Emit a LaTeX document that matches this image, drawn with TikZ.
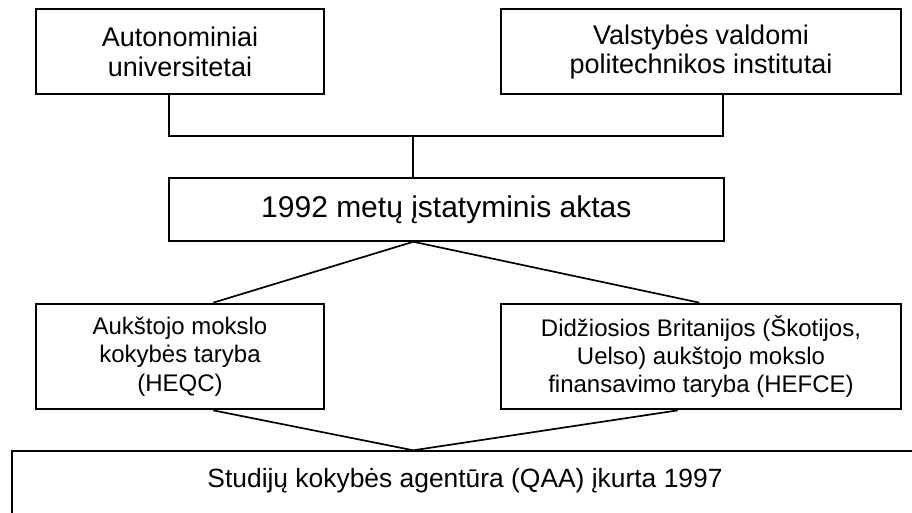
\documentclass[tikz,border=0pt]{standalone}
\usepackage{fontspec}
\setmainfont{Liberation Sans}
\begin{document}
\begin{tikzpicture}[x=1pt,y=-1pt,
  box/.style={draw=black, line width=2.1pt, fill=white, align=center, inner sep=0pt},
  link/.style={draw=black, line width=1.7pt, line join=miter},
  fbig/.style={font=\fontsize{27}{29.3}\selectfont},
  fmid/.style={font=\fontsize{24}{28.3}\selectfont},
  fact/.style={font=\fontsize{30}{34}\selectfont},
  fbot/.style={font=\fontsize{26.4}{30}\selectfont}]
\useasboundingbox (0,0) rectangle (912,512);
\clip (0,0) rectangle (912,512);
\fill[white] (0,0) rectangle (912,512);
% boxes
\node[box, fbig, minimum width=288.6pt, minimum height=84.7pt] (b1) at (180,51.7) {Autonominiai\\universitetai};
\node[box, fbig, minimum width=400pt, minimum height=84.7pt] (b2) at (701,51.7) {Valstybės valdomi\\politechnikos institutai};
\node[box, fact, minimum width=554.7pt, minimum height=62.4pt] (b3) at (446.3,209.5) {1992 metų įstatyminis aktas};
\node[box, fmid, minimum width=288.6pt, minimum height=105.6pt] (b4) at (180,356.5) {Aukštojo mokslo\\kokybės taryba\\(HEQC)};
\node[box, fmid, minimum width=400pt, minimum height=105.6pt] (b5) at (701,356.5) {Didžiosios Britanijos (Škotijos,\\Uelso) aukštojo mokslo\\finansavimo taryba (HEFCE)};
\node[box, fbot, anchor=north, minimum width=906pt, inner ysep=16.7pt, text height=19pt, text depth=40pt] (b6) at (465,450.3) {Studijų kokybės agentūra (QAA) įkurta 1997};
% junction coordinates
\coordinate (jl) at (169,135.7);
\coordinate (jm) at (413.3,135.7);
\coordinate (jr) at (722.7,135.7);
\coordinate (t4) at (213.3,0);
\coordinate (t5) at (699.3,0);
\coordinate (u5) at (677.7,0);
% connectors
\draw[link] (b1.south -| jl) -- (jl) -- (jr) -- (b2.south -| jr);
\draw[link] (jm) -- (b3.north -| jm);
\draw[link] (b4.north -| t4) -- (b3.south -| jm) -- (b5.north -| t5);
\draw[link] (b4.south -| t4) -- (b6.north -| jm) -- (b5.south -| u5);
\end{tikzpicture}
\end{document}
